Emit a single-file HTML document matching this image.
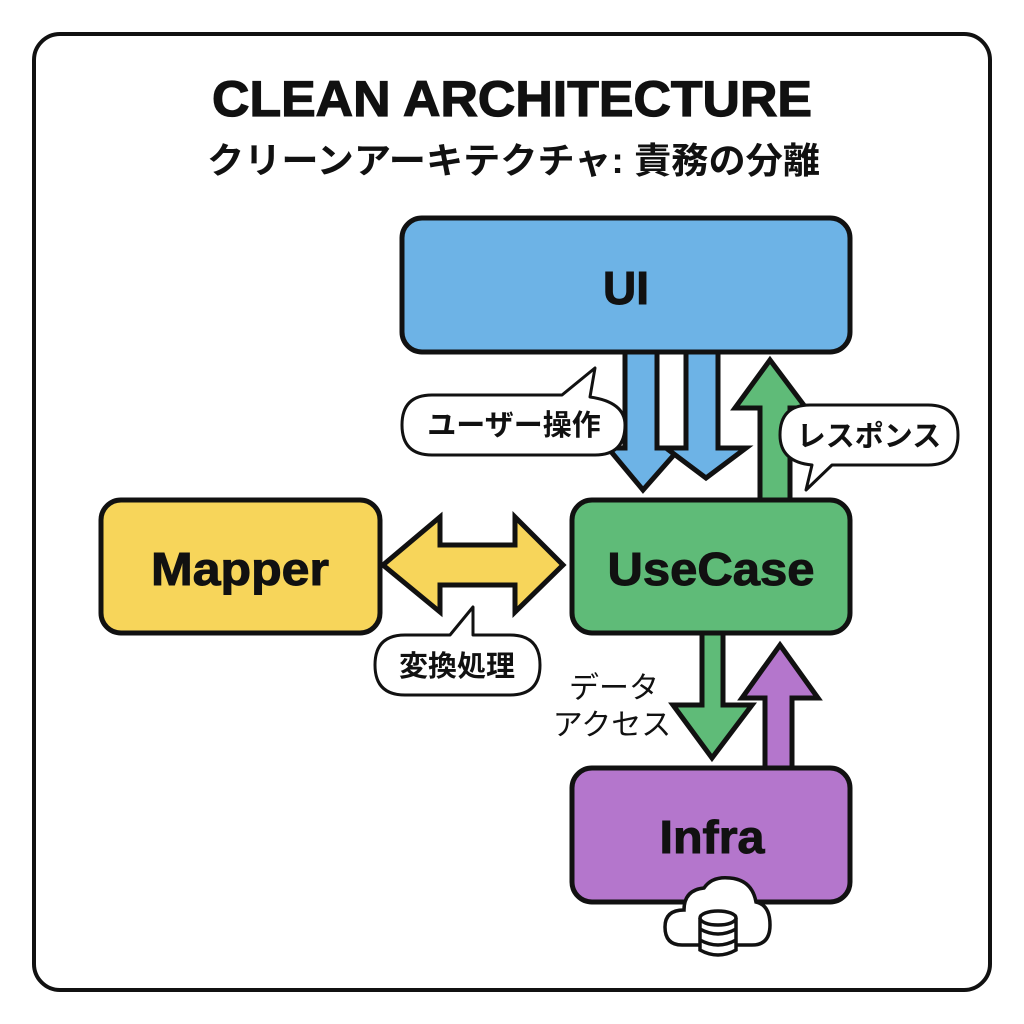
<!DOCTYPE html>
<html><head><meta charset="utf-8"><style>
html,body{margin:0;padding:0;background:#fff;}
svg{display:block;}
text{font-family:"Liberation Sans","Noto Sans CJK JP",sans-serif;}
</style></head><body>
<svg width="1024" height="1024" viewBox="0 0 1024 1024" xmlns="http://www.w3.org/2000/svg">
<rect x="0" y="0" width="1024" height="1024" fill="#fff"/>
<rect x="34" y="34" width="956" height="956" rx="26" fill="#fff" stroke="#111" stroke-width="4"/>
<text x="212" y="116" font-size="50" font-weight="bold" fill="#111" stroke="#111" stroke-width="1.2" textLength="600" lengthAdjust="spacingAndGlyphs">CLEAN ARCHITECTURE</text>
<text x="207" y="173" font-size="36" font-weight="bold" fill="#111" textLength="613" lengthAdjust="spacingAndGlyphs">クリーンアーキテクチャ: 責務の分離</text>

<g stroke="#111" stroke-width="5" stroke-linejoin="miter">
<polygon points="625,345 657,345 657,448 680,448 643,490 608,448 625,448" fill="#6db3e6"/>
<polygon points="686,345 718,345 718,448 746,448 706,478 666,448 686,448" fill="#6db3e6"/>
<polygon points="770,360 806,408 790,408 790,505 760,505 760,408 735,408" fill="#5fbb78"/>
<polygon points="383,565 440,517 440,545 515,545 515,517 563,565 515,612 515,585 440,585 440,612" fill="#f7d55a"/>
<polygon points="702,628 723,628 723,705 752,705 712,758 673,705 702,705" fill="#5fbb78"/>
<polygon points="780,645 818,698 792,698 792,773 765,773 765,698 742,698" fill="#b476cc"/>

<rect x="402" y="218" width="448" height="134" rx="20" fill="#6db3e6"/>
<rect x="101" y="500" width="279" height="133" rx="20" fill="#f7d55a"/>
<rect x="572" y="500" width="278" height="133" rx="20" fill="#5fbb78"/>
<rect x="572" y="768" width="278" height="134" rx="20" fill="#b476cc"/>
</g>
<g font-weight="bold" fill="#111" stroke="#111" stroke-width="1" text-anchor="middle">
<text x="626" y="304" font-size="46">UI</text>
<text x="240" y="585" font-size="46" textLength="178" lengthAdjust="spacingAndGlyphs">Mapper</text>
<text x="711" y="585" font-size="46" textLength="207" lengthAdjust="spacingAndGlyphs">UseCase</text>
<text x="712" y="853" font-size="46" textLength="105" lengthAdjust="spacingAndGlyphs">Infra</text>
</g>

<g stroke="#111" stroke-width="3" fill="#fff" stroke-linejoin="round">
<path d="M432,395 L562,395 L595,368 L590,397 Q625,402 625,425 Q625,455 595,455 L432,455 Q402,455 402,425 Q402,395 432,395 Z"/>
<path d="M810,405 L928,405 Q958,405 958,435 Q958,465 928,465 L832,465 L806,490 L812,465 Q780,462 780,435 Q780,405 810,405 Z"/>
<path d="M405,635 L450,635 L473,607 L473,635 L510,635 Q540,635 540,665 Q540,695 510,695 L405,695 Q375,695 375,665 Q375,635 405,635 Z"/>
</g>
<g font-size="29" font-weight="bold" fill="#111" text-anchor="middle">
<text x="514" y="435">ユーザー操作</text>
<text x="869" y="446">レスポンス</text>
<text x="457" y="676">変換処理</text>
</g>
<text x="614" y="698" text-anchor="middle" font-size="30" fill="#111">データ</text>
<text x="612" y="735" text-anchor="middle" font-size="30" fill="#111">アクセス</text>

<path d="M682,945 Q665,945 665,927 Q665,910 684,910 Q684,890 704,888 Q712,876 730,878 Q752,880 756,902 Q770,905 770,925 Q770,945 752,945 Z" fill="#fff" stroke="#111" stroke-width="3.5"/>
<g fill="#fff" stroke="#111" stroke-width="3.5">
<path d="M700,918 L700,950 Q718,960 736,950 L736,918"/>
<ellipse cx="718" cy="918" rx="18" ry="7"/>
<path d="M700,929 Q718,939 736,929 M700,940 Q718,950 736,940" fill="none"/>
</g>
</svg>
</body></html>
